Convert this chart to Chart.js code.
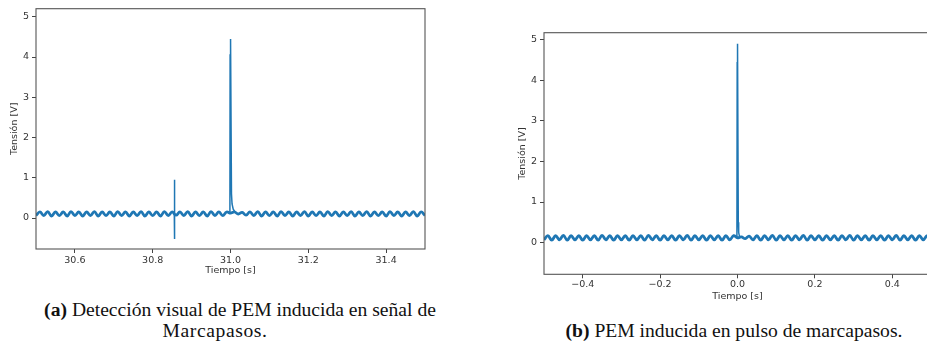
<!DOCTYPE html>
<html lang="es">
<head>
<meta charset="utf-8">
<title>PEM inducida en marcapasos</title>
<script src="https://cdn.jsdelivr.net/npm/chart.js@4/dist/chart.umd.min.js"></script>
<style>
  html, body { margin: 0; padding: 0; background: #fff; }
  body { width: 927px; height: 350px; position: relative; overflow: hidden; }
  canvas { position: absolute; }
  #plotA { left: 0; top: 0; }
  #plotB { left: 480px; top: 20px; }
  .cap { position: absolute; font-family: "Liberation Serif", "Times New Roman", serif;
         font-size: 19.6px; line-height: 22px; white-space: nowrap; color: #111;
         transform: translateX(-50%); }
  .cap b { font-weight: bold; }
</style>
</head>
<body>
<canvas id="plotA" width="440" height="290"></canvas>
<canvas id="plotB" width="460" height="290"></canvas>
<div class="cap" style="left:240px; top:299px;"><b>(a)</b> Detección visual de PEM inducida en señal de</div>
<div class="cap" style="left:215px; top:320px; letter-spacing:0.6px;">Marcapasos.</div>
<div class="cap" style="left:734px; top:320px;"><b>(b)</b> PEM inducida en pulso de marcapasos.</div>
<script>
// ---- Signal (a): pacemaker recording, 30.5 s to 31.5 s ----
// Baseline samples every 10 ms (mains ripple, alternating crest / trough)
const aStart = 30.50;
const samplePeriod = 0.01;
const aBaseline = [
  0.06,0.15,0.06,0.16,0.05,0.15,0.06,0.15,0.05,0.16,
  0.06,0.15,0.05,0.15,0.06,0.16,0.05,0.15,0.06,0.15,
  0.05,0.16,0.06,0.15,0.05,0.15,0.06,0.16,0.05,0.15,
  0.06,0.15,0.05,0.16,0.06,0.15,0.07,0.15,0.06,0.16,
  0.05,0.15,0.06,0.15,0.05,0.16,0.06,0.15,0.06,0.15,
  0.12,0.15,0.10,0.14,0.07,0.15,0.06,0.16,0.05,0.15,
  0.06,0.15,0.05,0.16,0.06,0.15,0.05,0.15,0.06,0.16,
  0.05,0.15,0.06,0.15,0.05,0.16,0.06,0.15,0.05,0.15,
  0.06,0.16,0.05,0.15,0.06,0.16,0.05,0.15,0.06,0.15,
  0.05,0.16,0.06,0.15,0.05,0.15,0.06,0.16,0.05,0.15,
  0.06
];
// Induced EMP transient at ~30.856 s
const aEmpTime  = [30.8555, 30.8558, 30.8562, 30.8566];
const aEmpValue = [0.11, 0.95, -0.52, 0.10];
// Pacemaker pulse at 31.0 s
const aPulseTime  = [30.9985, 30.9990, 30.9995, 31.0000, 31.0010, 31.0025, 31.0040, 31.0070, 31.0110];
const aPulseValue = [0.12, 4.05, 4.10, 4.45, 4.40, 0.60, 0.35, 0.22, 0.16];
const aXTicks = [30.6, 30.8, 31.0, 31.2, 31.4];
const aYTicks = [0, 1, 2, 3, 4, 5];

// ---- Signal (b): pacemaker pulse centred at 0 s ----
const bStart = -0.50;
const bBaseline = [
  0.07,0.17,0.06,0.17,0.07,0.18,0.06,0.17,0.07,0.17,
  0.06,0.17,0.07,0.17,0.06,0.18,0.07,0.17,0.06,0.17,
  0.07,0.17,0.06,0.17,0.07,0.17,0.06,0.18,0.07,0.17,
  0.06,0.17,0.07,0.17,0.06,0.17,0.07,0.18,0.06,0.17,
  0.07,0.17,0.06,0.17,0.07,0.17,0.06,0.17,0.07,0.17,
  0.12,0.14,0.10,0.16,0.07,0.17,0.06,0.17,0.07,0.18,
  0.06,0.17,0.07,0.17,0.06,0.17,0.07,0.18,0.06,0.17,
  0.07,0.17,0.06,0.17,0.07,0.17,0.06,0.17,0.07,0.18,
  0.06,0.17,0.07,0.17,0.06,0.17,0.07,0.17,0.06,0.17,
  0.07,0.18,0.06,0.17,0.07,0.17,0.06,0.17,0.07,0.17,
  0.06
];
const bPulseTime  = [-0.0015, -0.0008, -0.0004, 0.0000, 0.0007, 0.0020, 0.0030, 0.0045, 0.0070];
const bPulseValue = [0.12, 4.45, 4.40, 4.90, 4.85, 0.50, 0.25, 0.18, 0.13];
const bXTicks = [-0.4, -0.2, 0.0, 0.2, 0.4];
const bYTicks = [0, 1, 2, 3, 4, 5];

const lineColor = '#1f77b4';
const tickFont = { family: 'DejaVu Sans', size: 9.5 };
const textColor = '#333';

function baselinePoints(start, values) {
  return values.map((v, i) => ({ x: +(start + i * samplePeriod).toFixed(4), y: v }));
}
function pairPoints(times, values) {
  return times.map((t, i) => ({ x: t, y: values[i] }));
}

// Axes frame (all four spines)
const framePlugin = {
  id: 'frame',
  afterDraw(chart) {
    const { ctx, chartArea: { left, top, right, bottom } } = chart;
    ctx.save();
    ctx.strokeStyle = '#555';
    ctx.lineWidth = 1.1;
    ctx.strokeRect(left, top, right - left, bottom - top);
    ctx.restore();
  }
};

function buildChart(id, cfg) {
  const minus = v => (v < 0 ? '\u2212' : '') + Math.abs(v).toFixed(1);
  return new Chart(document.getElementById(id), {
    type: 'line',
    data: {
      datasets: cfg.datasets
    },
    options: {
      responsive: false,
      animation: false,
      devicePixelRatio: 1,
      layout: { padding: cfg.padding },
      plugins: { legend: { display: false }, tooltip: { enabled: false } },
      elements: { point: { radius: 0 } },
      scales: {
        x: {
          type: 'linear',
          min: cfg.xMin, max: cfg.xMax,
          afterBuildTicks: s => { s.ticks = cfg.xTicks.map(v => ({ value: v })); },
          afterFit: s => { s.height = cfg.xHeight; },
          ticks: { autoSkip: false, maxRotation: 0, font: tickFont, color: textColor,
                   padding: cfg.xTickPad, callback: v => minus(v) },
          grid: { drawOnChartArea: false, drawTicks: true, tickLength: 4, color: '#444' },
          border: { display: false },
          title: { display: true, text: 'Tiempo [s]', font: tickFont, color: textColor,
                   padding: { top: 0, bottom: cfg.xTitlePad } }
        },
        y: {
          type: 'linear',
          min: cfg.yMin, max: cfg.yMax,
          afterBuildTicks: s => { s.ticks = cfg.yTicks.map(v => ({ value: v })); },
          afterFit: s => { s.width = cfg.yWidth; },
          ticks: { autoSkip: false, font: tickFont, color: textColor, padding: 3,
                   callback: v => String(v) },
          grid: { drawOnChartArea: false, drawTicks: true, tickLength: 4, color: '#444' },
          border: { display: false },
          title: { display: true, text: 'Tensión [V]', font: tickFont, color: textColor,
                   padding: { top: cfg.yTitlePad, bottom: 0 } }
        }
      }
    },
    plugins: [framePlugin]
  });
}

buildChart('plotA', {
  datasets: [
    { data: baselinePoints(aStart, aBaseline), borderColor: lineColor, borderWidth: 2.8,
      tension: 0.4, pointRadius: 0, order: 2 },
    { data: pairPoints(aEmpTime, aEmpValue), borderColor: lineColor, borderWidth: 1.5,
      tension: 0, pointRadius: 0, order: 1 },
    { data: pairPoints(aPulseTime, aPulseValue), borderColor: lineColor, borderWidth: 1.5,
      tension: 0, pointRadius: 0, order: 1 }
  ],
  padding: { top: 7, right: 15, left: 0, bottom: 0 },
  xMin: 30.5, xMax: 31.5, yMin: -0.77, yMax: 5.2,
  xTicks: aXTicks, yTicks: aYTicks,
  xHeight: 41, yWidth: 36,
  xTickPad: 1.5, xTitlePad: 13.3, yTitlePad: 9.3
});

buildChart('plotB', {
  datasets: [
    { data: baselinePoints(bStart, bBaseline), borderColor: lineColor, borderWidth: 2.8,
      tension: 0.4, pointRadius: 0, order: 2 },
    { data: pairPoints(bPulseTime, bPulseValue), borderColor: lineColor, borderWidth: 1.5,
      tension: 0, pointRadius: 0, order: 1 }
  ],
  padding: { top: 12.7, right: 9, left: 0, bottom: 0 },
  xMin: -0.5, xMax: 0.5, yMin: -0.78, yMax: 5.17,
  xTicks: bXTicks, yTicks: bYTicks,
  xHeight: 35.7, yWidth: 64,
  xTickPad: 1, xTitlePad: 7.3, yTitlePad: 37.3
});
</script>
</body>
</html>
